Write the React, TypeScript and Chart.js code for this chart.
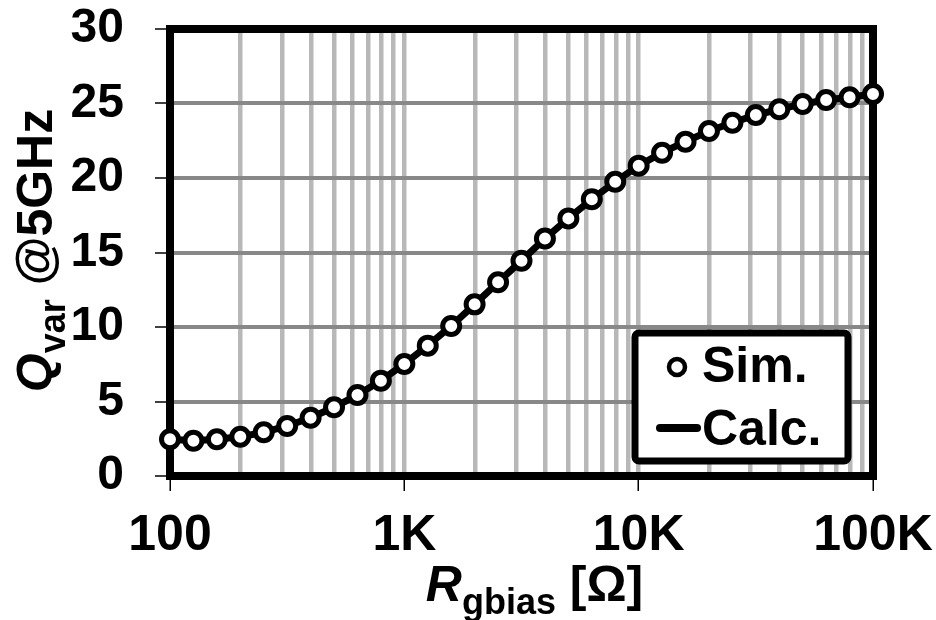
import React, { useEffect, useRef } from 'react';
import { Chart, registerables } from 'chart.js';

Chart.register(...registerables);

// R_gbias values [Ω] (10 points per decade)
const resistance = [
  100, 125.9, 158.5, 199.5, 251.2, 316.2, 398.1, 501.2, 631.0, 794.3,
  1000, 1259, 1585, 1995, 2512, 3162, 3981, 5012, 6310, 7943,
  10000, 12589, 15849, 19953, 25119, 31623, 39811, 50119, 63096, 79433,
  100000,
];

// Simulated Q_var @5GHz
const qSim = [
  2.46, 2.37, 2.46, 2.64, 2.93, 3.36, 3.91, 4.61, 5.44, 6.40,
  7.52, 8.75, 10.07, 11.52, 13.0, 14.45, 15.94, 17.29, 18.57, 19.75,
  20.83, 21.70, 22.44, 23.15, 23.71, 24.23, 24.61, 24.97, 25.23, 25.42,
  25.64,
];

// Calculated Q_var @5GHz
const qCalc = [
  2.46, 2.37, 2.46, 2.64, 2.93, 3.36, 3.91, 4.61, 5.44, 6.40,
  7.52, 8.75, 10.07, 11.52, 13.0, 14.45, 15.94, 17.29, 18.57, 19.75,
  20.83, 21.70, 22.44, 23.15, 23.71, 24.23, 24.61, 24.97, 25.23, 25.42,
  25.64,
];

const xMajorTicks = [100, 1000, 10000, 100000];
const xTickLabels = ['100', '1K', '10K', '100K'];
const yTicks = [0, 5, 10, 15, 20, 25, 30];
const seriesLabels = ['Sim.', 'Calc.'];

const FONT = '"Liberation Sans", Arial, Helvetica, sans-serif';

function xGridValues(): number[] {
  const out: number[] = [];
  for (let d = 100; d < 100000; d *= 10) {
    for (let m = 1; m <= 9; m++) out.push(d * m);
  }
  out.push(100000);
  return out;
}

type Part = { text: string; font: string; dy: number };

function drawParts(ctx: CanvasRenderingContext2D, parts: Part[], cx: number, baseY: number) {
  let total = 0;
  for (const p of parts) {
    ctx.font = p.font;
    total += ctx.measureText(p.text).width;
  }
  let x = cx - total / 2;
  ctx.textAlign = 'left';
  ctx.textBaseline = 'alphabetic';
  for (const p of parts) {
    ctx.font = p.font;
    ctx.fillText(p.text, x, baseY + p.dy);
    x += ctx.measureText(p.text).width;
  }
}

const framePlugin = {
  id: 'frame',
  beforeDatasetsDraw(chart: any) {
    const { ctx, chartArea: a } = chart;
    ctx.save();
    ctx.strokeStyle = '#000';
    ctx.lineWidth = 8;
    ctx.strokeRect(a.left, a.top, a.right - a.left, a.bottom - a.top);
    ctx.restore();
  },
};

const titlesPlugin = {
  id: 'titles',
  afterDraw(chart: any) {
    const { ctx, chartArea: a } = chart;
    ctx.save();
    ctx.fillStyle = '#000';
    // X title
    drawParts(
      ctx,
      [
        { text: 'R', font: `italic bold 50px ${FONT}`, dy: 0 },
        { text: 'gbias', font: `bold 36px ${FONT}`, dy: 13 },
        { text: ' [Ω]', font: `bold 50px ${FONT}`, dy: 0 },
      ],
      (a.left + a.right) / 2 + 13,
      601
    );
    // Y title (rotated)
    ctx.translate(52, (a.top + a.bottom) / 2 - 2);
    ctx.rotate(-Math.PI / 2);
    drawParts(
      ctx,
      [
        { text: 'Q', font: `italic bold 50px ${FONT}`, dy: 0 },
        { text: 'var', font: `bold 36px ${FONT}`, dy: 13 },
        { text: ' @5GHz', font: `bold 50px ${FONT}`, dy: 0 },
      ],
      0,
      0
    );
    ctx.restore();
  },
};

const legendPlugin = {
  id: 'boxLegend',
  afterDraw(chart: any) {
    const { ctx, chartArea: a } = chart;
    const w = 213;
    const h = 128;
    const lx = a.right - 25 - w;
    const ly = a.bottom - 15 - h;
    ctx.save();
    ctx.beginPath();
    const r = 4;
    ctx.moveTo(lx + r, ly);
    ctx.arcTo(lx + w, ly, lx + w, ly + h, r);
    ctx.arcTo(lx + w, ly + h, lx, ly + h, r);
    ctx.arcTo(lx, ly + h, lx, ly, r);
    ctx.arcTo(lx, ly, lx + w, ly, r);
    ctx.closePath();
    ctx.fillStyle = '#fff';
    ctx.fill();
    ctx.lineWidth = 7;
    ctx.strokeStyle = '#000';
    ctx.lineJoin = 'round';
    ctx.stroke();

    const ds = chart.data.datasets;
    // entry 1: marker
    ctx.beginPath();
    ctx.arc(lx + 42, ly + 34, 8, 0, Math.PI * 2);
    ctx.fillStyle = '#fff';
    ctx.fill();
    ctx.lineWidth = 4.5;
    ctx.strokeStyle = '#000';
    ctx.stroke();
    // entry 2: line
    ctx.beginPath();
    ctx.moveTo(lx + 25, ly + 95);
    ctx.lineTo(lx + 62, ly + 95);
    ctx.lineWidth = 8;
    ctx.lineCap = 'round';
    ctx.stroke();

    ctx.fillStyle = '#000';
    ctx.font = `bold 50px ${FONT}`;
    ctx.textAlign = 'left';
    ctx.textBaseline = 'alphabetic';
    ctx.fillText(ds[0].label, lx + 67, ly + 49);
    ctx.fillText(ds[1].label, lx + 67, ly + 112);
    ctx.restore();
  },
};

function zeroPadding(scale: any) {
  scale.paddingTop = 0;
  scale.paddingBottom = 0;
  scale.paddingLeft = 0;
  scale.paddingRight = 0;
}

export default function App() {
  const canvasRef = useRef<HTMLCanvasElement | null>(null);

  useEffect(() => {
    const canvas = canvasRef.current;
    if (!canvas) return;
    const gridVals = xGridValues();
    const chart = new Chart(canvas, {
      type: 'line',
      data: {
        datasets: [
          {
            label: seriesLabels[0],
            data: resistance.map((x, i) => ({ x, y: qSim[i] })),
            showLine: false,
            pointRadius: 8.5,
            pointBorderWidth: 5,
            pointBackgroundColor: '#fff',
            pointBorderColor: '#000',
            borderColor: '#000',
            backgroundColor: '#fff',
            clip: false,
          } as any,
          {
            label: seriesLabels[1],
            data: resistance.map((x, i) => ({ x, y: qCalc[i] })),
            borderColor: '#000',
            borderWidth: 7,
            pointRadius: 0,
            tension: 0,
            fill: false,
            clip: false,
          } as any,
        ],
      },
      options: {
        responsive: false,
        animation: false,
        events: [],
        layout: { padding: { left: 0, top: 29, right: 63, bottom: 0 } },
        plugins: {
          legend: { display: false },
          tooltip: { enabled: false },
          title: { display: false },
        },
        scales: {
          x: {
            type: 'logarithmic',
            min: 100,
            max: 100000,
            afterBuildTicks: (scale: any) => {
              scale.ticks = gridVals.map((v) => ({ value: v, major: xMajorTicks.includes(v) }));
            },
            afterFit: (scale: any) => {
              scale.height = 144;
              zeroPadding(scale);
            },
            border: { display: false },
            grid: {
              color: '#b8b8b8',
              lineWidth: 4.5,
              drawTicks: true,
              tickLength: 15,
              tickWidth: 1.5,
              tickColor: (c: any) =>
                c.tick && xMajorTicks.includes(c.tick.value) ? '#000' : 'rgba(0,0,0,0)',
            },
            ticks: {
              autoSkip: false,
              maxRotation: 0,
              minRotation: 0,
              padding: 15,
              color: '#000',
              font: { family: FONT, size: 50, weight: 'bold' },
              callback: (value: any) => {
                const idx = xMajorTicks.indexOf(Number(value));
                return idx >= 0 ? xTickLabels[idx] : '';
              },
            },
          },
          y: {
            type: 'linear',
            min: 0,
            max: 30,
            afterBuildTicks: (scale: any) => {
              scale.ticks = yTicks.map((v) => ({ value: v }));
            },
            afterFit: (scale: any) => {
              scale.width = 170;
              zeroPadding(scale);
            },
            border: { display: false },
            grid: {
              color: '#888888',
              lineWidth: 4,
              drawTicks: true,
              tickLength: 15,
              tickWidth: 1.5,
              tickColor: '#000',
            },
            ticks: {
              padding: 31,
              color: '#000',
              font: { family: FONT, size: 48, weight: 'bold', lineHeight: 1 },
              callback: (value: any) => String(value),
            },
          },
        },
      } as any,
      plugins: [framePlugin, titlesPlugin, legendPlugin],
    });
    return () => chart.destroy();
  }, []);

  return (
    <div style={{ position: 'absolute', left: 0, top: 0, width: 936, height: 620, background: '#fff' }}>
      <canvas ref={canvasRef} width={936} height={620} style={{ display: 'block', width: 936, height: 620 }} />
    </div>
  );
}
